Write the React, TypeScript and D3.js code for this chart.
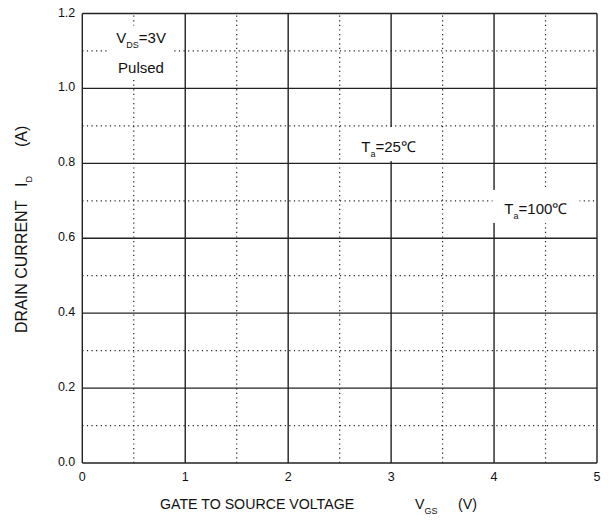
import React from "react";
import * as d3 from "d3";

// axis ticks
const xTicks = [0, 1, 2, 3, 4, 5];
const yTicks = [0, 0.2, 0.4, 0.6, 0.8, 1.0, 1.2];
const xMinor = [0.5, 1.5, 2.5, 3.5, 4.5];
const yMinor = [0.1, 0.3, 0.5, 0.7, 0.9, 1.1];

// annotation boxes (data units): [x0, x1, y0, y1]
const vdsBox = [0.26, 0.88, 1.027, 1.168];
const ta25Box = [2.62, 3.38, 0.806, 0.897];
const ta100Box = [3.985, 4.83, 0.641, 0.729];

const width = 609;
const height = 520;
const margin = { top: 13.5, right: 12, bottom: 57, left: 82.3 };
const font = "'Liberation Sans', Arial, sans-serif";

export default function App() {
  const x = d3
    .scaleLinear()
    .domain([0, 5])
    .range([margin.left, width - margin.right]);
  const y = d3
    .scaleLinear()
    .domain([0, 1.2])
    .range([height - margin.bottom, margin.top]);

  const box = (b: number[], key: string) => (
    <rect
      key={key}
      x={x(b[0])}
      y={y(b[3])}
      width={x(b[1]) - x(b[0])}
      height={y(b[2]) - y(b[3])}
      fill="#fff"
    />
  );

  return (
    <svg
      width={width}
      height={height}
      style={{ position: "absolute", left: 0, top: 0, background: "#fff" }}
      fontFamily={font}
    >
      {/* dotted minor grid */}
      {xMinor.map((d) => (
        <line
          key={"xm" + d}
          x1={x(d)}
          x2={x(d)}
          y1={y(0)}
          y2={y(1.2)}
          stroke="#222"
          strokeWidth={1.2}
          strokeDasharray="1.2,3.4"
        />
      ))}
      {yMinor.map((d) => (
        <line
          key={"ym" + d}
          x1={x(0)}
          x2={x(5)}
          y1={y(d)}
          y2={y(d)}
          stroke="#222"
          strokeWidth={1.2}
          strokeDasharray="1.2,3.4"
        />
      ))}
      {/* solid major grid */}
      {xTicks.map((d) => (
        <line
          key={"xg" + d}
          x1={x(d)}
          x2={x(d)}
          y1={y(0)}
          y2={y(1.2)}
          stroke="#222"
          strokeWidth={1.4}
        />
      ))}
      {yTicks.map((d) => (
        <line
          key={"yg" + d}
          x1={x(0)}
          x2={x(5)}
          y1={y(d)}
          y2={y(d)}
          stroke="#222"
          strokeWidth={1.4}
        />
      ))}

      {/* masks behind annotations */}
      {box(vdsBox, "b1")}
      {box(ta25Box, "b2")}
      {box(ta100Box, "b3")}

      {/* tick labels */}
      {xTicks.map((d) => (
        <text
          key={"xt" + d}
          x={x(d)}
          y={y(0) + 17.5}
          textAnchor="middle"
          fontSize={12.5}
          fill="#111"
        >
          {d}
        </text>
      ))}
      {yTicks.map((d) => (
        <text
          key={"yt" + d}
          x={x(0) - 7}
          y={y(d) + 3}
          textAnchor="end"
          fontSize={12.5}
          fill="#111"
        >
          {d3.format(".1f")(d)}
        </text>
      ))}

      {/* annotations */}
      <text x={x(0.33)} y={y(1.12)} fontSize={15} fill="#111">
        V
        <tspan fontSize={9} dy={5}>DS</tspan>
        <tspan dy={-5}>=3V</tspan>
      </text>
      <text x={x(0.57)} y={y(1.04)} fontSize={15} fill="#111" textAnchor="middle">
        Pulsed
      </text>
      <text x={x(2.71)} y={y(0.83)} fontSize={15} fill="#111">
        T
        <tspan fontSize={9} dy={5}>a</tspan>
        <tspan dy={-5}>=25℃</tspan>
      </text>
      <text x={x(4.1)} y={y(0.665)} fontSize={15} fill="#111">
        T
        <tspan fontSize={9} dy={5}>a</tspan>
        <tspan dy={-5}>=100℃</tspan>
      </text>

      {/* axis titles */}
      <text x={160} y={y(0) + 46} fontSize={14.2} fill="#111">
        GATE TO SOURCE VOLTAGE
        <tspan x={415}>V</tspan>
        <tspan fontSize={9} dy={5}>GS</tspan>
        <tspan x={458} dy={-5}>(V)</tspan>
      </text>
      <text
        transform="translate(27, 333) rotate(-90)"
        fontSize={16}
        fill="#111"
      >
        DRAIN CURRENT
        <tspan x={146}>I</tspan>
        <tspan fontSize={9} dy={5}>D</tspan>
        <tspan x={186} dy={-5}>(A)</tspan>
      </text>
    </svg>
  );
}
